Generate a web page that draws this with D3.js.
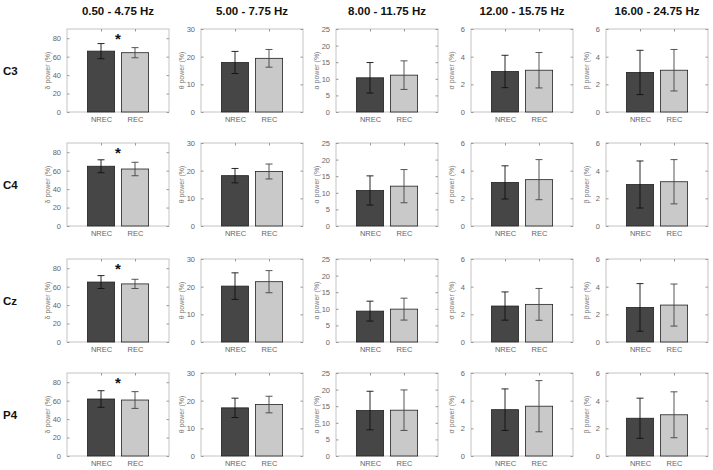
<!DOCTYPE html>
<html>
<head>
<meta charset="utf-8">
<script src="https://cdn.jsdelivr.net/npm/d3@7"></script>
<style>
  html, body { margin: 0; padding: 0; background: #fff; }
  svg { display: block; }
  text { font-family: "Liberation Sans", Arial, Helvetica, sans-serif; }
</style>
</head>
<body>
<svg id="chart" width="713" height="470"></svg>
<script>
// ---- data ----
const channels = ["C3", "C4", "Cz", "P4"];
const bands = ["0.50 - 4.75 Hz", "5.00 - 7.75 Hz", "8.00 - 11.75 Hz", "12.00 - 15.75 Hz", "16.00 - 24.75 Hz"];
const groups = ["NREC", "REC"];
const yLabels = ["δ power (%)", "θ power (%)", "α power (%)", "σ power (%)", "β power (%)"];
const yMax = [90, 30, 25, 6, 6];
const yTicks = [[0, 20, 40, 60, 80], [0, 10, 20, 30], [0, 5, 10, 15, 20, 25], [0, 2, 4, 6], [0, 2, 4, 6]];
// rows = channels, columns = bands
const nrecMean = [
  [66.0, 17.9, 10.3, 2.93, 2.86],
  [64.8, 18.2, 10.7, 3.15, 3.00],
  [65.0, 20.2, 9.3, 2.60, 2.50],
  [61.8, 17.4, 13.7, 3.35, 2.73]
];
const nrecSD = [
  [8.2, 4.0, 4.6, 1.17, 1.60],
  [7.0, 2.6, 4.4, 1.20, 1.70],
  [7.0, 4.8, 3.0, 1.02, 1.72],
  [9.0, 3.5, 5.8, 1.50, 1.45]
];
const recMean = [
  [64.3, 19.4, 11.1, 3.02, 3.02],
  [61.8, 19.7, 12.0, 3.35, 3.20],
  [63.0, 21.8, 9.9, 2.72, 2.67],
  [60.7, 18.6, 13.8, 3.60, 2.98]
];
const recSD = [
  [5.5, 3.2, 4.3, 1.28, 1.50],
  [7.3, 2.7, 5.0, 1.45, 1.60],
  [5.0, 4.0, 3.3, 1.15, 1.52],
  [9.1, 3.0, 6.1, 1.85, 1.66]
];
const significant = [
  [true, false, false, false, false],
  [true, false, false, false, false],
  [true, false, false, false, false],
  [true, false, false, false, false]
];

// ---- layout ----
const svg = d3.select("#chart");
const colLeft = [67, 201, 336, 471, 606];
const rowTop = [29, 143, 259, 373];
const pw = 102, ph = 83;
const barColors = ["#464646", "#c9c9c9"];
const boxColor = "#c4c4c4";
const tickTextColor = "#666";

// column titles
bands.forEach((b, j) => {
  svg.append("text")
    .attr("x", colLeft[j] + pw / 2)
    .attr("y", 15)
    .attr("text-anchor", "middle")
    .attr("font-size", 11.5)
    .attr("font-weight", "bold")
    .attr("fill", "#111")
    .text(b);
});

// row labels
channels.forEach((c, i) => {
  svg.append("text")
    .attr("x", 3)
    .attr("y", rowTop[i] + ph / 2 + 4)
    .attr("font-size", 11.5)
    .attr("font-weight", "bold")
    .attr("fill", "#111")
    .text(c);
});

channels.forEach((ch, i) => {
  bands.forEach((band, j) => {
    const left = colLeft[j], top = rowTop[i];
    const x = d3.scaleLinear().domain([0, 3]).range([left, left + pw]);
    const y = d3.scaleLinear().domain([0, yMax[j]]).range([top + ph, top]);
    const g = svg.append("g");

    const rows = groups.map((grp, k) => ({
      grp, k,
      mean: k === 0 ? nrecMean[i][j] : recMean[i][j],
      sd: k === 0 ? nrecSD[i][j] : recSD[i][j]
    }));

    // box
    g.append("rect")
      .attr("x", left).attr("y", top).attr("width", pw).attr("height", ph)
      .attr("fill", "#fff").attr("stroke", boxColor).attr("stroke-width", 1);

    // bars
    const bw = x(0.8) - x(0);
    g.selectAll(".bar").data(rows).enter().append("rect")
      .attr("x", d => x(d.k + 1) - bw / 2)
      .attr("y", d => y(d.mean))
      .attr("width", bw)
      .attr("height", d => y(0) - y(d.mean))
      .attr("fill", d => barColors[d.k])
      .attr("stroke", "#222")
      .attr("stroke-width", 0.8);

    // error bars
    const cap = 3.5;
    rows.forEach(d => {
      const cx = x(d.k + 1);
      const col = d.k === 0 ? "#111" : "#444";
      const y1 = y(d.mean + d.sd), y0 = y(Math.max(0, d.mean - d.sd));
      g.append("line").attr("x1", cx).attr("x2", cx).attr("y1", y1).attr("y2", y0)
        .attr("stroke", col).attr("stroke-width", 0.9);
      [y1, y0].forEach(yy => {
        g.append("line").attr("x1", cx - cap).attr("x2", cx + cap).attr("y1", yy).attr("y2", yy)
          .attr("stroke", col).attr("stroke-width", 0.9);
      });
    });

    // y axis left (ticks inside)
    const axL = g.append("g").attr("transform", `translate(${left},0)`)
      .call(d3.axisLeft(y).tickValues(yTicks[j]).tickFormat(d3.format("d"))
        .tickSizeInner(-2.5).tickSizeOuter(0).tickPadding(6));
    axL.select(".domain").remove();
    axL.selectAll("line").attr("stroke", "#999");
    axL.selectAll("text").attr("font-size", 7.5).attr("fill", tickTextColor)
      .attr("font-family", "'Liberation Sans', Arial, sans-serif");

    // y axis right ticks
    const axR = g.append("g").attr("transform", `translate(${left + pw},0)`)
      .call(d3.axisRight(y).tickValues(yTicks[j]).tickSizeInner(-2.5).tickSizeOuter(0).tickFormat(""));
    axR.select(".domain").remove();
    axR.selectAll("line").attr("stroke", "#999");

    // x axis bottom labels
    const axB = g.append("g").attr("transform", `translate(0,${top + ph})`)
      .call(d3.axisBottom(x).tickValues([1, 2]).tickFormat(v => groups[v - 1]).tickSize(0).tickPadding(5));
    axB.select(".domain").remove();
    axB.selectAll("text").attr("font-size", 7.5).attr("fill", tickTextColor)
      .attr("font-family", "'Liberation Sans', Arial, sans-serif");

    // x axis top ticks
    const axT = g.append("g").attr("transform", `translate(0,${top})`)
      .call(d3.axisTop(x).tickValues([1, 2]).tickSizeInner(-2.5).tickSizeOuter(0).tickFormat(""));
    axT.select(".domain").remove();
    axT.selectAll("line").attr("stroke", "#999");

    // y label
    g.append("text")
      .attr("transform", `translate(${left - 17},${top + ph / 2}) rotate(-90)`)
      .attr("text-anchor", "middle")
      .attr("font-size", 7)
      .attr("fill", "#777")
      .text(yLabels[j]);

    // significance star
    if (significant[i][j]) {
      g.append("text")
        .attr("x", x(1.5))
        .attr("y", top + 15)
        .attr("text-anchor", "middle")
        .attr("font-size", 15)
        .attr("font-weight", "bold")
        .attr("fill", "#111")
        .text("*");
    }
  });
});
</script>
</body>
</html>
